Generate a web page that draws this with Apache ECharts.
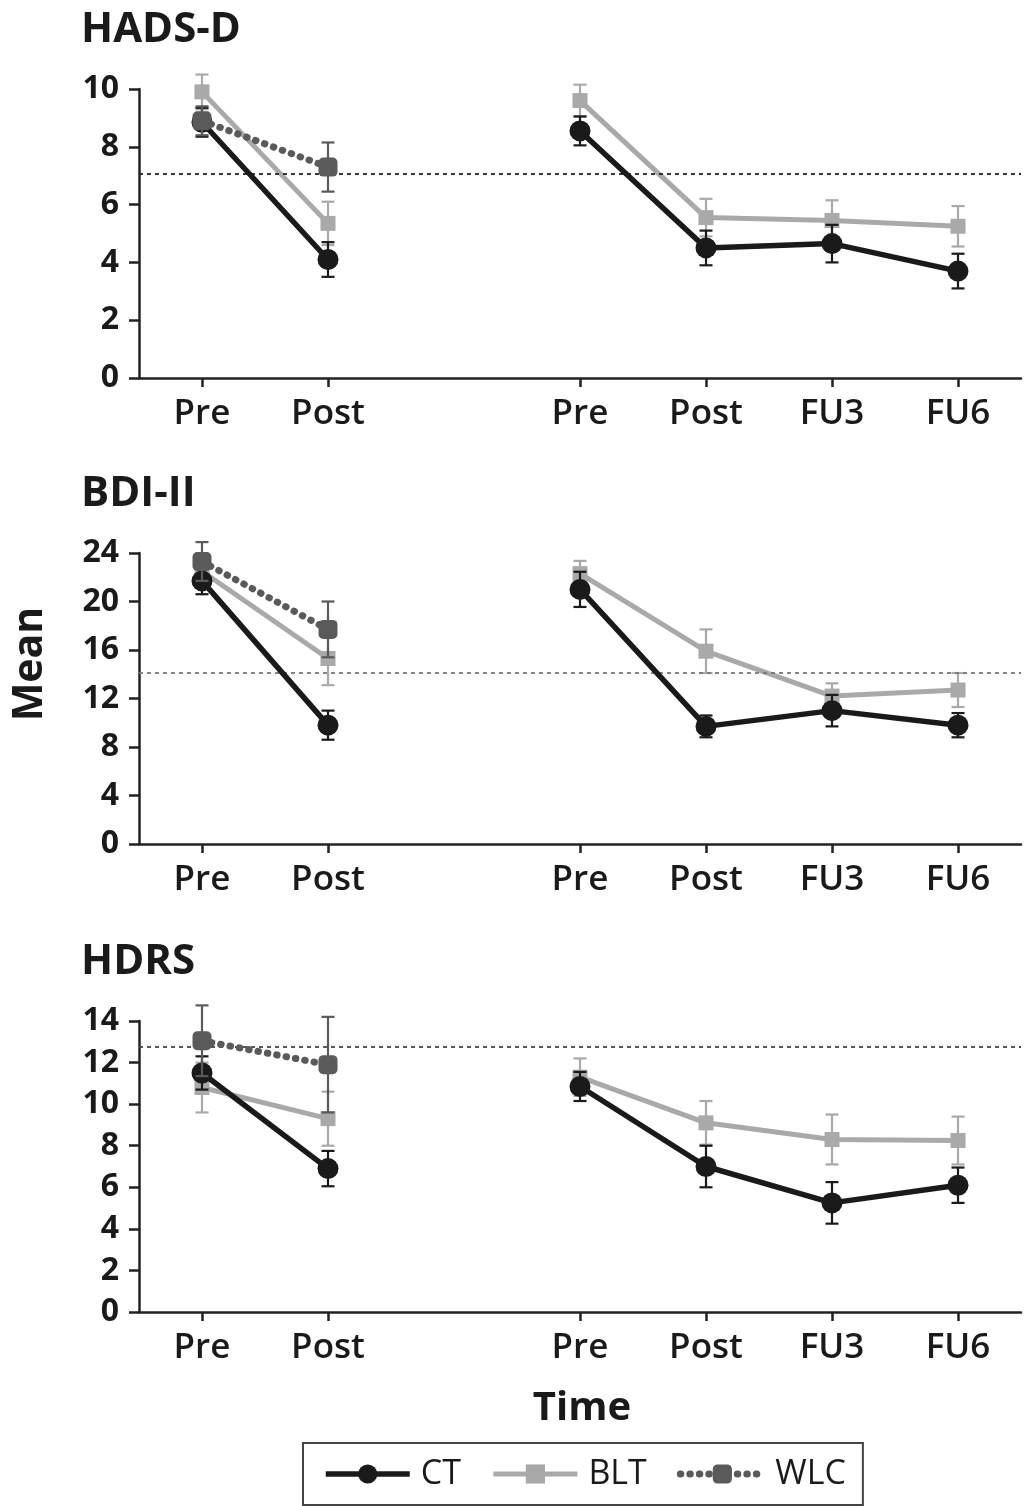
<!DOCTYPE html>
<html>
<head>
    <meta charset="utf-8">
    <title>HADS-D / BDI-II / HDRS</title>
    <script src="https://cdn.jsdelivr.net/npm/echarts@6/dist/echarts.min.js"></script>
</head>

<body style="margin:0">
    <div id="main" style="width:1029px; height:1506px;"></div>

    <script type="text/javascript">
        // time points, the blank slot splits the two study phases
        const timeLabels = ['Pre', 'Post', '', 'Pre', 'Post', 'FU3', 'FU6'];

        // HADS-D
        const hadsCT = [8.85, 4.1, null, 8.55, 4.5, 4.65, 3.7];
        const hadsCTErr = [0.5, 0.6, null, 0.5, 0.6, 0.65, 0.6];
        const hadsBLT = [9.9, 5.35, null, 9.6, 5.55, 5.45, 5.25];
        const hadsBLTErr = [0.6, 0.75, null, 0.55, 0.65, 0.7, 0.7];
        const hadsWLC = [8.9, 7.3, null, null, null, null, null];
        const hadsWLCErr = [0.5, 0.85, null, null, null, null, null];

        // BDI-II
        const bdiCT = [21.7, 9.8, null, 21.0, 9.7, 11.0, 9.8];
        const bdiCTErr = [1.1, 1.2, null, 1.45, 0.9, 1.3, 1.0];
        const bdiBLT = [22.5, 15.3, null, 22.3, 15.9, 12.2, 12.7];
        const bdiBLTErr = [1.2, 2.2, null, 1.05, 1.8, 1.05, 1.4];
        const bdiWLC = [23.3, 17.7, null, null, null, null, null];
        const bdiWLCErr = [1.6, 2.3, null, null, null, null, null];

        // HDRS
        const hdrsCT = [11.5, 6.9, null, 10.85, 7.0, 5.25, 6.1];
        const hdrsCTErr = [0.8, 0.85, null, 0.7, 1.0, 1.0, 0.85];
        const hdrsBLT = [10.8, 9.3, null, 11.3, 9.1, 8.3, 8.25];
        const hdrsBLTErr = [1.2, 1.3, null, 0.9, 1.05, 1.2, 1.15];
        const hdrsWLC = [13.05, 11.9, null, null, null, null, null];
        const hdrsWLCErr = [1.7, 2.3, null, null, null, null, null];

        // panel names, axis ranges and cut-off lines
        const panelTitles = ['HADS-D', 'BDI-II', 'HDRS'];
        const yMax = [10, 24, 14];
        const yStep = [2, 4, 2];
        const cutoffs = [7.07, 14.1, 12.75];

        const font = '"Open Sans", "Noto Sans", sans-serif';
        const colCT = '#1a1a1a', colBLT = '#a9a9a9', colWLC = '#5a5a5a';
        const gridTops = [89, 553, 1021];
        const gridHeights = [289, 291, 291];
        const cutColors = ['#222', '#777', '#444'];

        const panels = [
            { CT: hadsCT, CTe: hadsCTErr, BLT: hadsBLT, BLTe: hadsBLTErr, WLC: hadsWLC, WLCe: hadsWLCErr },
            { CT: bdiCT, CTe: bdiCTErr, BLT: bdiBLT, BLTe: bdiBLTErr, WLC: bdiWLC, WLCe: bdiWLCErr },
            { CT: hdrsCT, CTe: hdrsCTErr, BLT: hdrsBLT, BLTe: hdrsBLTErr, WLC: hdrsWLC, WLCe: hdrsWLCErr }
        ];

        function errData(mean, err) {
            const out = [];
            mean.forEach((m, i) => {
                if (m != null) out.push([i, m - err[i], m + err[i]]);
            });
            return out;
        }

        function renderErr(params, api) {
            const x = api.value(0);
            const lo = api.coord([x, api.value(1)]);
            const hi = api.coord([x, api.value(2)]);
            const w = 6.5;
            const style = { stroke: api.visual('color'), lineWidth: 2.2 };
            return {
                type: 'group',
                children: [
                    { type: 'line', shape: { x1: lo[0], y1: lo[1], x2: hi[0], y2: hi[1] }, style },
                    { type: 'line', shape: { x1: lo[0] - w, y1: lo[1], x2: lo[0] + w, y2: lo[1] }, style },
                    { type: 'line', shape: { x1: hi[0] - w, y1: hi[1], x2: hi[0] + w, y2: hi[1] }, style }
                ]
            };
        }

        const axisLine = { show: true, lineStyle: { color: '#222', width: 2.5 } };

        const grid = [], xAxis = [], yAxis = [], series = [], title = [];

        panels.forEach((p, k) => {
            grid.push({ left: 139, right: 8, top: gridTops[k], height: gridHeights[k] });
            title.push({
                text: panelTitles[k], left: 76, top: gridTops[k] - 85,
                textStyle: { fontSize: 42, fontWeight: 'bold', color: '#1a1a1a', fontFamily: font }
            });
            xAxis.push({
                gridIndex: k, type: 'category', data: timeLabels, boundaryGap: true,
                axisLine,
                axisTick: {
                    show: true, alignWithLabel: true, length: 9,
                    interval: (i, v) => v !== '',
                    lineStyle: { color: '#222', width: 2.5 }
                },
                axisLabel: { fontSize: 35, fontWeight: 600, color: '#1a1a1a', margin: 19, fontFamily: font, interval: 0 },
                splitLine: { show: false }
            });
            yAxis.push({
                gridIndex: k, type: 'value', min: 0, max: yMax[k], interval: yStep[k],
                axisLine,
                axisTick: { show: true, length: 10, lineStyle: { color: '#222', width: 2.5 } },
                axisLabel: { fontSize: 32, fontWeight: 'bold', color: '#1a1a1a', margin: 20, fontFamily: font },
                splitLine: { show: false }
            });

            series.push({
                type: 'custom', xAxisIndex: k, yAxisIndex: k, renderItem: renderErr,
                itemStyle: { color: colBLT }, encode: { x: 0, y: [1, 2] },
                data: errData(p.BLT, p.BLTe), z: 2, silent: true
            });
            series.push({
                name: 'BLT', type: 'line', xAxisIndex: k, yAxisIndex: k, data: p.BLT,
                symbol: 'rect', symbolSize: 15,
                lineStyle: { color: colBLT, width: 5 }, itemStyle: { color: colBLT },
                z: 3,
                markLine: {
                    silent: true, symbol: ['none', 'none'], label: { show: false },
                    lineStyle: { color: cutColors[k], type: [4, 4], width: 1.8 },
                    data: [{ yAxis: cutoffs[k] }]
                }
            });
            series.push({
                type: 'custom', xAxisIndex: k, yAxisIndex: k, renderItem: renderErr,
                itemStyle: { color: colCT }, encode: { x: 0, y: [1, 2] },
                data: errData(p.CT, p.CTe), z: 4, silent: true
            });
            series.push({
                name: 'CT', type: 'line', xAxisIndex: k, yAxisIndex: k, data: p.CT,
                symbol: 'circle', symbolSize: 21,
                lineStyle: { color: colCT, width: 5.5 }, itemStyle: { color: colCT },
                z: 5
            });
            series.push({
                type: 'custom', xAxisIndex: k, yAxisIndex: k, renderItem: renderErr,
                itemStyle: { color: colWLC }, encode: { x: 0, y: [1, 2] },
                data: errData(p.WLC, p.WLCe), z: 6, silent: true
            });
            series.push({
                name: 'WLC', type: 'line', xAxisIndex: k, yAxisIndex: k, data: p.WLC,
                symbol: 'roundRect', symbolSize: 19,
                lineStyle: { color: colWLC, width: 7, type: [0.5, 9], cap: 'round' },
                itemStyle: { color: colWLC },
                z: 7
            });
        });

        const myChart = echarts.init(document.getElementById('main'));

        const option = {
            backgroundColor: '#fff',
            animation: false,
            title,
            grid,
            xAxis,
            yAxis,
            series,
            legend: {
                data: ['CT', 'BLT', 'WLC'], left: 303, top: 1443,
                itemWidth: 84, itemHeight: 24, itemGap: 30,
                padding: [14, 17, 14, 20],
                borderColor: '#444', borderWidth: 2,
                selectedMode: false,
                lineStyle: { width: 'inherit' },
                textStyle: { fontSize: 34, color: '#1a1a1a', fontFamily: font, padding: [0, 0, 0, 6] }
            },
            graphic: [
                {
                    type: 'text', x: 30, y: 664, rotation: Math.PI / 2,
                    style: {
                        text: 'Mean', fontSize: 41, fontWeight: 'bold', fill: '#1a1a1a', fontFamily: font,
                        align: 'center', verticalAlign: 'middle'
                    }
                },
                {
                    type: 'text', x: 582, y: 1409,
                    style: {
                        text: 'Time', fontSize: 40, fontWeight: 'bold', fill: '#1a1a1a', fontFamily: font,
                        align: 'center', verticalAlign: 'middle'
                    }
                }
            ]
        };

        myChart.setOption(option);
    </script>
</body>
</html>
